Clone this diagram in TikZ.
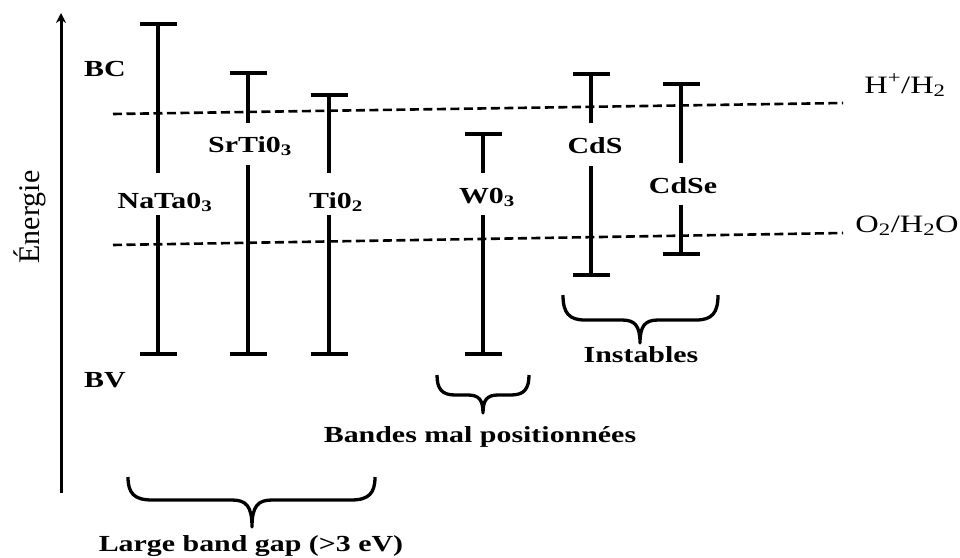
\documentclass[tikz,border=0pt]{standalone}
\usepackage{fontspec}
\setmainfont{Liberation Serif}[FakeStretch=1.3]
\newfontfamily\plainserif{Liberation Serif}
\usetikzlibrary{arrows.meta}
\tikzset{
  bandbar/.style={line width=4pt},
  bandcap/.style={line width=4pt},
  level/.style={line width=2.6pt, dash pattern=on 9pt off 4.5pt},
  axisline/.style={line width=3pt, -{Stealth[length=10pt,width=10pt]}},
  curly/.style={line width=3.3pt, line join=round},
  lbl/.style={inner sep=0pt, anchor=base, font=\fontsize{23}{26}\selectfont\bfseries},
  redox/.style={inner sep=0pt, anchor=base, font=\fontsize{25}{28}\selectfont},
}
\begin{document}
\begin{tikzpicture}[x=1pt,y=-1pt]
\useasboundingbox (0,0) rectangle (960,557);
% energy axis
\coordinate (axbot) at (61,493);
\coordinate (axtop) at (61,13);
\draw[axisline] (axbot) -- (axtop);
\node[inner sep=0pt, rotate=90, font=\plainserif\fontsize{30}{32}\selectfont] (energie) at (30,217) {Énergie};
\node[lbl] (bc) at (105,76) {BC};
\node[lbl] (bv) at (105,387) {BV};
% redox levels
\coordinate (h1) at (113,114); \coordinate (h2) at (843,103);
\coordinate (o1) at (113,245); \coordinate (o2) at (843,233);
\draw[level] (h1) -- (h2);
\draw[level] (o1) -- (o2);
\node[redox] (hlab) at (905,93) {H\textsuperscript{+}/H\textsubscript{2}};
\node[redox] (olab) at (907,232) {O\textsubscript{2}/H\textsubscript{2}O};
% bars: x, top, gap1, gap2, bottom
\foreach \x/\t/\ga/\gb/\b in {158/24/173/215/354, 248/73/123/165/354, 329/95/173/215/354, 483/134/173/215/354, 591/74/123/166/275, 681/84/163/205/254}{
  \draw[bandbar] (\x,\t) -- (\x,\ga);
  \draw[bandbar] (\x,\gb) -- (\x,\b);
  \draw[bandcap] ({\x-18.5},\t) -- ({\x+18.5},\t);
  \draw[bandcap] ({\x-18.5},\b) -- ({\x+18.5},\b);
}
\node[lbl] (nata) at (165,208) {NaTa0\textsubscript{3}};
\node[lbl] (srti) at (250,152) {SrTi0\textsubscript{3}};
\node[lbl] (tio) at (336,208) {Ti0\textsubscript{2}};
\node[lbl] (wo) at (487,203) {W0\textsubscript{3}};
\node[lbl] (cds) at (595,153) {CdS};
\node[lbl] (cdse) at (683,193) {CdSe};
% braces
\draw[curly] (128,477) .. controls (128,493) and (134,500) .. (152,500) -- (232,500)
  .. controls (246,500) and (252,506) .. (252,527)
  .. controls (252,506) and (258,500) .. (272,500) -- (351,500)
  .. controls (369,500) and (375,493) .. (375,477);
\draw[curly] (437,375) .. controls (437,389) and (442,395) .. (455,395) -- (468,395)
  .. controls (479,395) and (483,400) .. (483,413)
  .. controls (483,400) and (487,395) .. (498,395) -- (511,395)
  .. controls (524,395) and (529,389) .. (529,375);
\draw[curly] (563,295) .. controls (563,313) and (569,320) .. (585,320) -- (622,320)
  .. controls (635,320) and (640,326) .. (640,343)
  .. controls (640,326) and (645,320) .. (658,320) -- (696,320)
  .. controls (712,320) and (718,313) .. (718,295);
\node[lbl] (large) at (251,551) {Large band gap (>3 eV)};
\node[lbl] (bandes) at (480,442) {Bandes mal positionnées};
\node[lbl] (instables) at (641,362) {Instables};
\end{tikzpicture}
\end{document}
